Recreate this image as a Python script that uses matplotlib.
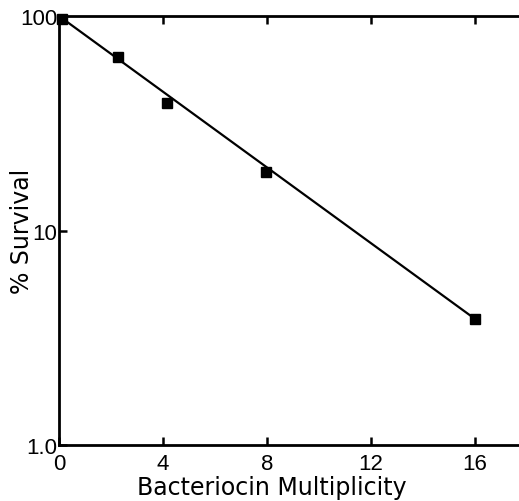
import matplotlib
matplotlib.use("Agg")
import matplotlib.pyplot as plt

# Survival after bacteriocin exposure
multiplicity = [0.1, 2.25, 4.15, 7.95, 16.0]
survival = [97.0, 64.5, 39.5, 18.8, 3.87]

# Fitted exponential decline
fit_x = [0.0, 16.0]
fit_y = [100.0, 3.87]

x_ticks = [0, 4, 8, 12, 16]
y_ticks = [1.0, 10, 100]
y_tick_labels = ["1.0", "10", "100"]

plt.rcParams["font.family"] = ["Liberation Sans", "DejaVu Sans"]

fig = plt.figure(figsize=(5.19, 5.02), dpi=100)
ax = fig.add_axes([59 / 519, 56 / 502, 468 / 519, 429 / 502])

ax.plot(fit_x, fit_y, color="black", lw=1.6, solid_capstyle="butt")
ax.plot(multiplicity, survival, "s", color="black", ms=7.5, clip_on=False)

ax.set_yscale("log")
ax.set_xlim(0, 18)
ax.set_ylim(1.0, 100)

ax.set_xticks(x_ticks)
ax.set_xticklabels([str(t) for t in x_ticks])
ax.set_yticks(y_ticks)
ax.set_yticklabels(y_tick_labels)
ax.yaxis.set_minor_locator(matplotlib.ticker.NullLocator())

ax.tick_params(direction="in", length=6, width=1.8, labelsize=16,
               top=True, right=True)
ax.tick_params(axis="x", pad=6)
ax.tick_params(axis="y", pad=1)
for s in ax.spines.values():
    s.set_linewidth(2.0)

ax.set_xlabel("Bacteriocin Multiplicity", fontsize=17, family="DejaVu Sans")
ax.xaxis.set_label_coords(0.455, -0.098)
ax.set_ylabel("% Survival", fontsize=17, family="DejaVu Sans")
ax.yaxis.set_label_coords(-0.079, 0.5)
ax.yaxis.label.set_va("center")
ax.xaxis.label.set_va("center")

fig.savefig("out.png", dpi=100)
